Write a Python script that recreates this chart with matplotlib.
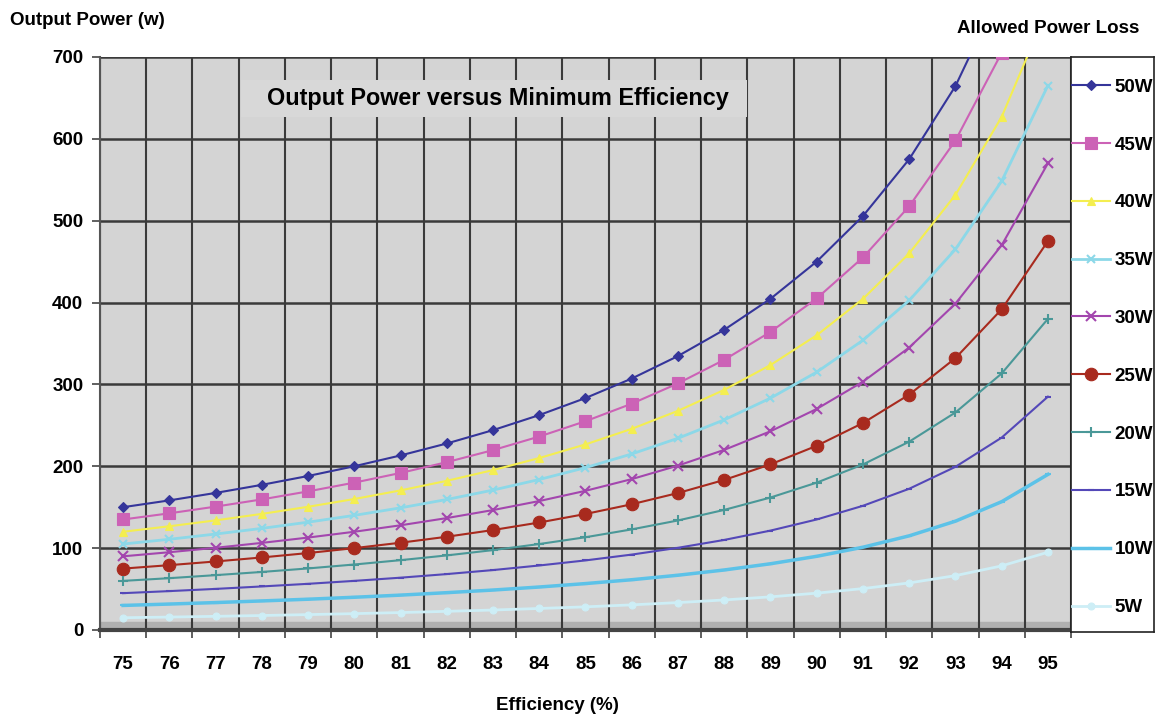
from matplotlib import pyplot as plt
from matplotlib.patches import Rectangle
import numpy as np

plt.rcParams['font.family'] = ['Liberation Sans', 'DejaVu Sans']
plt.rcParams['font.weight'] = 'bold'

# Efficiency categories (%)
efficiency = [75, 76, 77, 78, 79, 80, 81, 82, 83, 84, 85,
              86, 87, 88, 89, 90, 91, 92, 93, 94, 95]

# Output power (W) read for each allowed power loss
p50 = [150, 158.3, 167.4, 177.3, 188.1, 200, 213.2, 227.8, 244.1, 262.5, 283.3,
       307.1, 334.6, 366.7, 404.5, 450, 505.6, 575, 664.3, 783.3, 950]
p45 = [135, 142.5, 150.7, 159.5, 169.3, 180, 191.8, 205, 219.7, 236.3, 255,
       276.4, 301.2, 330, 364.1, 405, 455, 517.5, 597.9, 705, 855]
p40 = [120, 126.7, 133.9, 141.8, 150.5, 160, 170.5, 182.2, 195.3, 210, 226.7,
       245.7, 267.7, 293.3, 323.6, 360, 404.4, 460, 531.4, 626.7, 760]
p35 = [105, 110.8, 117.2, 124.1, 131.7, 140, 149.2, 159.4, 170.9, 183.8, 198.3,
       215, 234.2, 256.7, 283.2, 315, 353.9, 402.5, 465, 548.3, 665]
p30 = [90, 95, 100.4, 106.4, 112.9, 120, 127.9, 136.7, 146.5, 157.5, 170,
       184.3, 200.8, 220, 242.7, 270, 303.3, 345, 398.6, 470, 570]
p25 = [75, 79.2, 83.7, 88.6, 94, 100, 106.6, 113.9, 122.1, 131.3, 141.7,
       153.6, 167.3, 183.3, 202.3, 225, 252.8, 287.5, 332.1, 391.7, 475]
p20 = [60, 63.3, 67, 70.9, 75.2, 80, 85.3, 91.1, 97.6, 105, 113.3,
       122.9, 133.8, 146.7, 161.8, 180, 202.2, 230, 265.7, 313.3, 380]
p15 = [45, 47.5, 50.2, 53.2, 56.4, 60, 63.9, 68.3, 73.2, 78.8, 85,
       92.1, 100.4, 110, 121.4, 135, 151.7, 172.5, 199.3, 235, 285]
p10 = [30, 31.7, 33.5, 35.5, 37.6, 40, 42.6, 45.6, 48.8, 52.5, 56.7,
       61.4, 66.9, 73.3, 80.9, 90, 101.1, 115, 132.9, 156.7, 190]
p5 = [15, 15.8, 16.7, 17.7, 18.8, 20, 21.3, 22.8, 24.4, 26.3, 28.3,
      30.7, 33.5, 36.7, 40.5, 45, 50.6, 57.5, 66.4, 78.3, 95]

labels = ['50W', '45W', '40W', '35W', '30W', '25W', '20W', '15W', '10W', '5W']
series = [p50, p45, p40, p35, p30, p25, p20, p15, p10, p5]

# style per series: colour, marker, marker size, line width
styles = [
    ('#35359a', 'D', 5, 1.5),
    ('#cc62b6', 's', 8, 1.5),
    ('#f4ee50', '^', 6, 1.5),
    ('#8cd8e8', 'x', 6, 2.0),
    ('#a346ae', 'x', 7, 1.5),
    ('#a82a1e', 'o', 9, 1.5),
    ('#4a9898', '+', 7, 1.5),
    ('#5448b8', '_', 5, 1.5),
    ('#5cc2e8', '_', 5, 2.5),
    ('#cdeef6', 'o', 5, 2.0),
]

fig = plt.figure(figsize=(11.57, 7.2), dpi=100)
ax = fig.add_axes([0.0864, 0.125, 0.8393, 0.796])
ax.set_facecolor('#d4d4d4')

x = np.arange(len(efficiency))
for vals, lab, (col, mk, ms, lw) in zip(series, labels, styles):
    ax.plot(x, vals, color=col, marker=mk, markersize=ms, linewidth=lw,
            markeredgewidth=1.5 if mk in ('x', '+', '_') else 0.8,
            markeredgecolor=col, label=lab, zorder=3)

ax.set_xlim(-0.5, len(efficiency) - 0.5)
ax.set_ylim(0, 700)

# category style axis: labels in the middle, grid on boundaries
ax.set_xticks(x)
ax.set_xticklabels(efficiency, fontsize=13.5, fontweight='bold')
ax.set_xticks(np.arange(-0.5, len(efficiency)), minor=True)
ax.tick_params(axis='x', which='major', length=0, pad=19)
ax.tick_params(axis='x', which='minor', length=6, width=1.2, color='#444444')
ax.set_yticks(range(0, 701, 100))
ax.set_yticklabels(range(0, 701, 100), fontsize=13.5, fontweight='bold')
ax.tick_params(axis='y', length=6, width=1.2, color='#444444', pad=6)

ax.grid(axis='x', which='minor', color='#3a3a3a', linewidth=1.5, zorder=1)
ax.grid(axis='y', which='major', color='#3a3a3a', linewidth=1.8, zorder=1)
ax.set_axisbelow(True)
for s in ['top', 'right']:
    ax.spines[s].set_visible(False)
ax.spines['left'].set_color('#555555')
ax.spines['left'].set_linewidth(1.5)
ax.spines['bottom'].set_color('#444444')
ax.spines['bottom'].set_linewidth(3)

# darker floor band along the bottom of the plot area (under the grid)
ax.axhspan(0, 10, color='#b0b0b0', zorder=0.3)

# title box that hides the grid behind it
ax.add_patch(Rectangle((2.55, 626), 10.94, 46, facecolor='#d8d8d8',
                       edgecolor='none', zorder=2))
ax.text(8.1, 649, 'Output Power versus Minimum Efficiency',
        ha='center', va='center', fontsize=16.8, fontweight='bold', zorder=2.5)

fig.text(0.009, 0.972, 'Output Power (w)', fontsize=13.5, fontweight='bold', va='center')
fig.text(0.985, 0.961, 'Allowed Power Loss', fontsize=13.5, fontweight='bold',
         va='center', ha='right')
fig.text(0.482, 0.02, 'Efficiency (%)', fontsize=13.5, fontweight='bold',
         ha='center', va='center')

# legend box at the right of the plot area
lax = fig.add_axes([0.9257, 0.122, 0.072, 0.799])
lax.set_xticks([])
lax.set_yticks([])
for s in lax.spines.values():
    s.set_color('#222222')
    s.set_linewidth(1.2)
handles, labs = ax.get_legend_handles_labels()
lax.legend(handles, labs, loc='center', bbox_to_anchor=(0.5, 0.495), frameon=False,
           labelspacing=2.17, handlelength=2.0, handletextpad=0.25,
           borderpad=0, prop={'weight': 'bold', 'size': 13.5})

plt.savefig('out.png', dpi=100)
